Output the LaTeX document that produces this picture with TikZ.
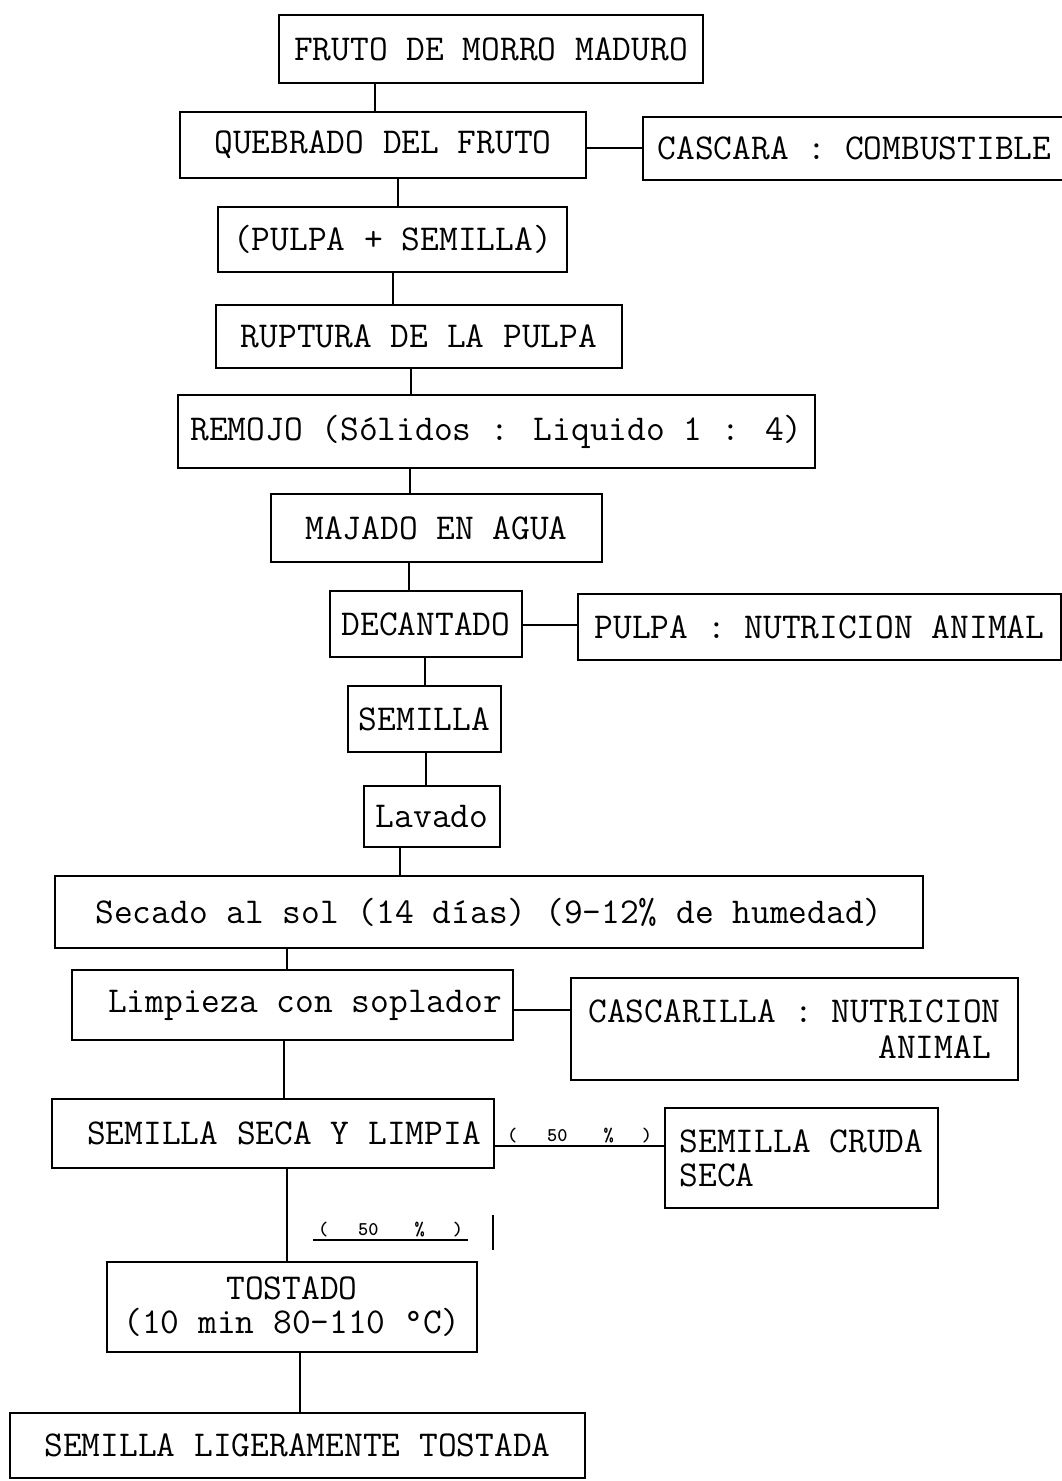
\documentclass[tikz,border=0pt]{standalone}
\usepackage{fontspec}
\newcommand\mylinkv[3]{\coordinate (tmpx) at (#3,0); \draw[conn] (#1.south -| tmpx) -- (#2.north -| tmpx);}
\newcommand\mylinkh[3]{\coordinate (tmpy) at (0,#3); \draw[conn] (#1.east |- tmpy) -- (#2.west |- tmpy);}
\newcommand\pct{(\hspace{30pt}50\hspace{36pt}\%\hspace{28pt})}
\begin{document}
\begin{tikzpicture}[x=1pt,y=-1pt,
  box/.style={draw, line width=1.6pt, inner sep=0pt, font=\fontsize{36.4}{37}\selectfont\ttfamily},
  conn/.style={line width=1.6pt},
  pctlabel/.style={font=\fontsize{19.4}{20}\selectfont\ttfamily\bfseries, inner sep=2pt}]
\useasboundingbox (0,0) rectangle (1062,1481);
\node[box, minimum width=424pt, minimum height=68pt] (fruto) at (491,49) {FRUTO DE MORRO MADURO};
\node[box, minimum width=406pt, minimum height=66pt] (quebrado) at (383,145) {QUEBRADO DEL FRUTO};
\node[box, minimum width=423pt, minimum height=63pt] (cascara) at (854.5,148.5) {CASCARA : COMBUSTIBLE};
\node[box, minimum width=349pt, minimum height=65pt] (pulpasem) at (392.5,239.5) {(PULPA + SEMILLA)};
\node[box, minimum width=406pt, minimum height=63pt] (ruptura) at (419,336.5) {RUPTURA DE LA PULPA};
\node[box, minimum width=637pt, minimum height=73pt] (remojo) at (496.5,431.5) {REMOJO (Sólidos : Liquido 1 : 4)};
\node[box, minimum width=331pt, minimum height=68pt] (majado) at (436.5,528) {MAJADO EN AGUA};
\node[box, minimum width=192pt, minimum height=66pt] (decantado) at (426,624) {DECANTADO};
\node[box, minimum width=483pt, minimum height=66pt] (pulpa) at (819.5,627) {PULPA : NUTRICION ANIMAL};
\node[box, minimum width=153pt, minimum height=66pt] (semilla) at (424.5,719) {SEMILLA};
\node[box, minimum width=136pt, minimum height=61pt] (lavado) at (432,816.5) {Lavado};
\node[box, minimum width=868pt, minimum height=72pt] (secado) at (489,912) {Secado al sol (14 días) (9-12\% de humedad)};
\node[box, minimum width=441pt, minimum height=70pt] (limpieza) at (292.5,1005) {\hspace*{25pt}Limpieza con soplador};
\node[box, minimum width=447pt, minimum height=102pt, align=left, font=\fontsize{36.4}{36}\selectfont\ttfamily] (cascarilla) at (794.5,1029) {CASCARILLA : NUTRICION\\\hspace*{290pt}ANIMAL};
\node[box, minimum width=442pt, minimum height=69pt] (semseca) at (273,1133.5) {\hspace*{22pt}SEMILLA SECA Y LIMPIA};
\node[box, minimum width=273pt, minimum height=100pt, align=left, font=\fontsize{36.4}{34}\selectfont\ttfamily] (cruda) at (801.5,1158) {SEMILLA CRUDA\\SECA};
\node[box, minimum width=370pt, minimum height=90pt, align=center, font=\fontsize{36.4}{34}\selectfont\ttfamily] (tostado) at (292,1307) {TOSTADO\\(10 min 80-110 °C)};
\node[box, minimum width=575pt, minimum height=65pt] (ligera) at (297.5,1445.5) {SEMILLA LIGERAMENTE TOSTADA};
% vertical connectors
\mylinkv{fruto}{quebrado}{375}
\mylinkv{quebrado}{pulpasem}{398}
\mylinkv{pulpasem}{ruptura}{393}
\mylinkv{ruptura}{remojo}{411}
\mylinkv{remojo}{majado}{410}
\mylinkv{majado}{decantado}{409}
\mylinkv{decantado}{semilla}{425}
\mylinkv{semilla}{lavado}{426}
\mylinkv{lavado}{secado}{400}
\mylinkv{secado}{limpieza}{287}
\mylinkv{limpieza}{semseca}{284}
\mylinkv{semseca}{tostado}{287}
\mylinkv{tostado}{ligera}{300}
% horizontal connectors
\mylinkh{quebrado}{cascara}{148}
\mylinkh{decantado}{pulpa}{625}
\mylinkh{limpieza}{cascarilla}{1010}
\coordinate (ysplit) at (0,1146);
\draw[conn] (semseca.east |- ysplit) -- node[pctlabel, above] (pcta) {\pct} (cruda.west |- ysplit);
% second 50% label
\coordinate (ulA) at (313,1240);
\coordinate (ulB) at (468,1240);
\draw[conn] (ulA) -- node[pctlabel, above] (pctb) {\pct} (ulB);
\coordinate (barA) at (493,1215);
\coordinate (barB) at (493,1250);
\draw[conn] (barA) -- (barB);
\end{tikzpicture}
\end{document}
